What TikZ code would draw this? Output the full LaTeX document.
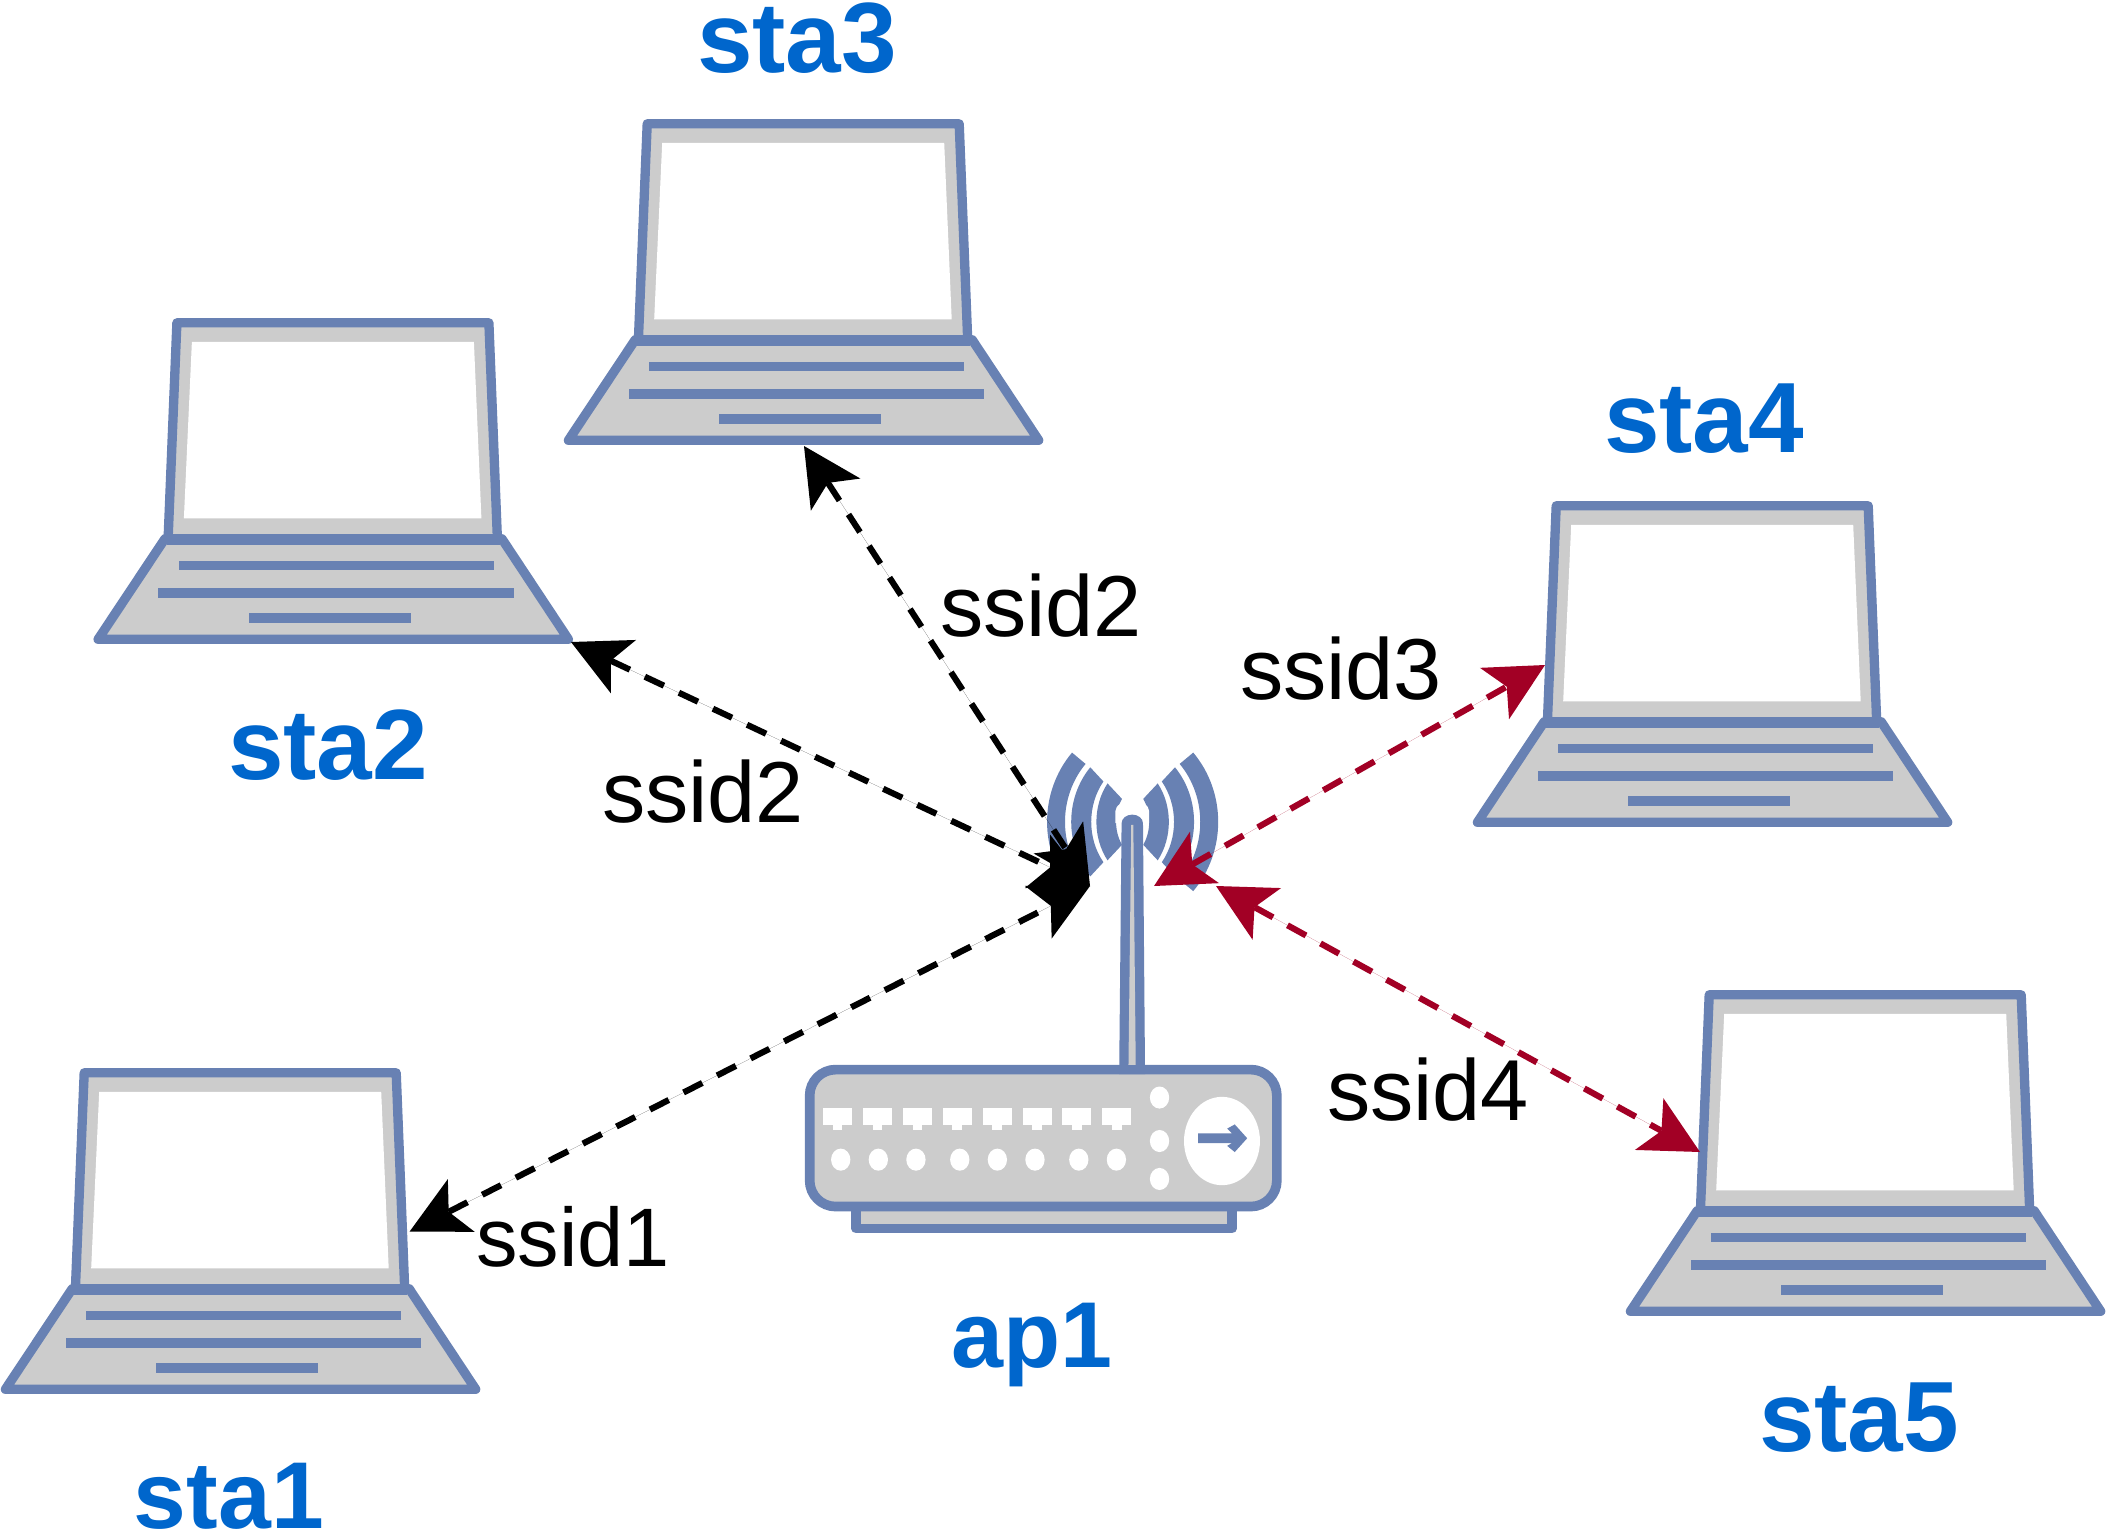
\documentclass[tikz,border=0pt]{standalone}
\usepackage{fontspec}
\setmainfont{Liberation Sans}
\usetikzlibrary{arrows.meta,calc}
\definecolor{devblue}{HTML}{6881B3}
\definecolor{devgrey}{HTML}{CCCCCC}
\definecolor{lblblue}{HTML}{0066CC}
\definecolor{arrred}{HTML}{A20025}
\tikzset{
  devline/.style={draw=devblue,line width=2.65pt,line join=round,fill=devgrey},
  barfill/.style={fill=devblue},
  link/.style={line width=1.75pt,dash pattern=on 6pt off 4.7pt,
    {Stealth[length=16.5pt,width=16.8pt,inset=4pt,line width=0pt]}-{Stealth[length=16.5pt,width=16.8pt,inset=4pt,line width=0pt]}},
  blacklink/.style={link,draw=black,fill=black},
  redlink/.style={link,draw=arrred,fill=arrred},
  ssid/.style={anchor=base,inner sep=0pt,font=\fontsize{24.6pt}{28pt}\selectfont},
  devname/.style={anchor=base,inner sep=0pt,text=lblblue,font=\fontsize{28.4pt}{32pt}\selectfont\bfseries},
}
\newcommand{\laptop}[2]{%
  \begin{scope}[shift={(#1,#2)}]
    \path[devline] (-12,216) -- (325,216) -- (391.5,316.5) -- (-78.8,316.5) -- cycle;
    \path[devline] (0,0) -- (312,0) -- (320.5,216.2) -- (-8.8,216.2) -- cycle;
    \fill[devblue] (-10,211) rectangle (323,222);
    \fill[white] (15,19) -- (297,19) -- (304.5,195.5) -- (7,195.5) -- cycle;
    \fill[barfill] (2,238) rectangle (317,247.2);
    \fill[barfill] (-18.6,265.5) rectangle (337,275);
    \fill[barfill] (71.6,290.5) rectangle (234,300);
  \end{scope}}
% centre, direction, t1 rx1 ry1 (outer), t2 rx2 ry2 (inner)
\newcommand{\band}[8]{%
  \fill[devblue] ($(#1,301)+(#2+#3:#4 and #5)$)
    arc[start angle=#2+#3,end angle=#2-#3,x radius=#4,y radius=#5]
    -- ($(#1,301)+(#2-#6:#7 and #8)$)
    arc[start angle=#2-#6,end angle=#2+#6,x radius=#7,y radius=#8] -- cycle;}
\begin{document}
\begin{tikzpicture}[x=0.01cm,y=-0.01cm]
\useasboundingbox (0,0) rectangle (2108,1533);
\fill[white] (0,0) rectangle (2108,1533);
% laptops
\laptop{84.2}{1072.8}
\laptop{176.9}{322.8}
\laptop{647.2}{123.8}
\laptop{1556.2}{505.8}
\laptop{1709.2}{994.8}
% router
\begin{scope}[shift={(780,718)},x=0.00345cm,y=-0.00345cm]
  \foreach \c/\d in {975/0,1069/180}{
    \band{\c}{\d}{41}{295}{306}{41}{243}{256}
    \band{\c}{\d}{41}{225}{241}{38}{167}{190}
    \band{\c}{\d}{38}{152}{181}{35}{95}{116}
  }
  \path[draw=devblue,line width=2.75pt,fill=devgrey,line join=round] (221,1416) rectangle (1310,1480);
  \path[draw=devblue,line width=2.75pt,fill=devgrey,rounded corners=7.4pt] (86,1019) rectangle (1440,1416);
  \fill[white] (972,305) -- (972,270) arc[start angle=180,end angle=360,x radius=49,y radius=30] -- (1070,305) -- cycle;
  \fill[devblue] (983,1032) -- (990,305) arc[start angle=180,end angle=360,x radius=31,y radius=25] -- (1058,1032) -- cycle;
  \fill[devgrey] (1010,1005) -- (1018,310) -- (1024,310) -- (1031,1005) -- cycle;
  \foreach \i in {0,...,7}{
    \fill[white] ({125+115.6*\i},1130) rectangle ({209+115.6*\i},1180);
    \fill[white] ({153+115.6*\i},1180) rectangle ({181+115.6*\i},1195);
  }
  \foreach \x in {176,285,394,521,630,739,866,975}
    \fill[white] (\x,1280) ellipse[x radius=28,y radius=32];
  \foreach \y in {1100,1226,1336}
    \fill[white] (1100,\y) ellipse[x radius=28,y radius=32];
  \fill[white] (1281,1226) ellipse[x radius=110,y radius=128];
  \fill[devblue] (1212,1204) -- (1310,1204) -- (1296,1190) -- (1318,1178) -- (1354,1218) -- (1318,1258) -- (1296,1240) -- (1310,1232) -- (1212,1232) -- cycle;
\end{scope}
% connector ends
\coordinate (e1) at (409.5,1231.7);
\coordinate (e2) at (571,642);
\coordinate (e3) at (804,446);
\coordinate (e4) at (1545,665);
\coordinate (e5) at (1700,1152);
\coordinate (apa) at (1090,886);
\coordinate (apb) at (1154,886);
\coordinate (apc) at (1216,886);
\draw[blacklink] (e1) -- (apa);
\draw[blacklink] (e2) -- (apa);
\draw[blacklink] (e3) -- (apa);
\draw[redlink] (apb) -- (e4);
\draw[redlink] (apc) -- (e5);
% labels
\node[ssid,font=\fontsize{23.6pt}{28pt}\selectfont] (l1) at (573,1266) {ssid1};
\node[ssid] (l2) at (703,822.5) {ssid2};
\node[ssid] (l3) at (1041,636) {ssid2};
\node[ssid] (l4) at (1341,699) {ssid3};
\node[ssid] (l5) at (1428,1120) {ssid4};
\node[devname,font=\fontsize{27pt}{32pt}\selectfont\bfseries] (n1) at (229,1528) {sta1};
\node[devname] (n2) at (328,779.5) {sta2};
\node[devname] (n3) at (797,72) {sta3};
\node[devname] (n4) at (1704,452) {sta4};
\node[devname] (n5) at (1859,1451.5) {sta5};
\node[devname,font=\fontsize{26.6pt}{32pt}\selectfont\bfseries] (n6) at (1032,1367) {ap1};
\end{tikzpicture}
\end{document}
